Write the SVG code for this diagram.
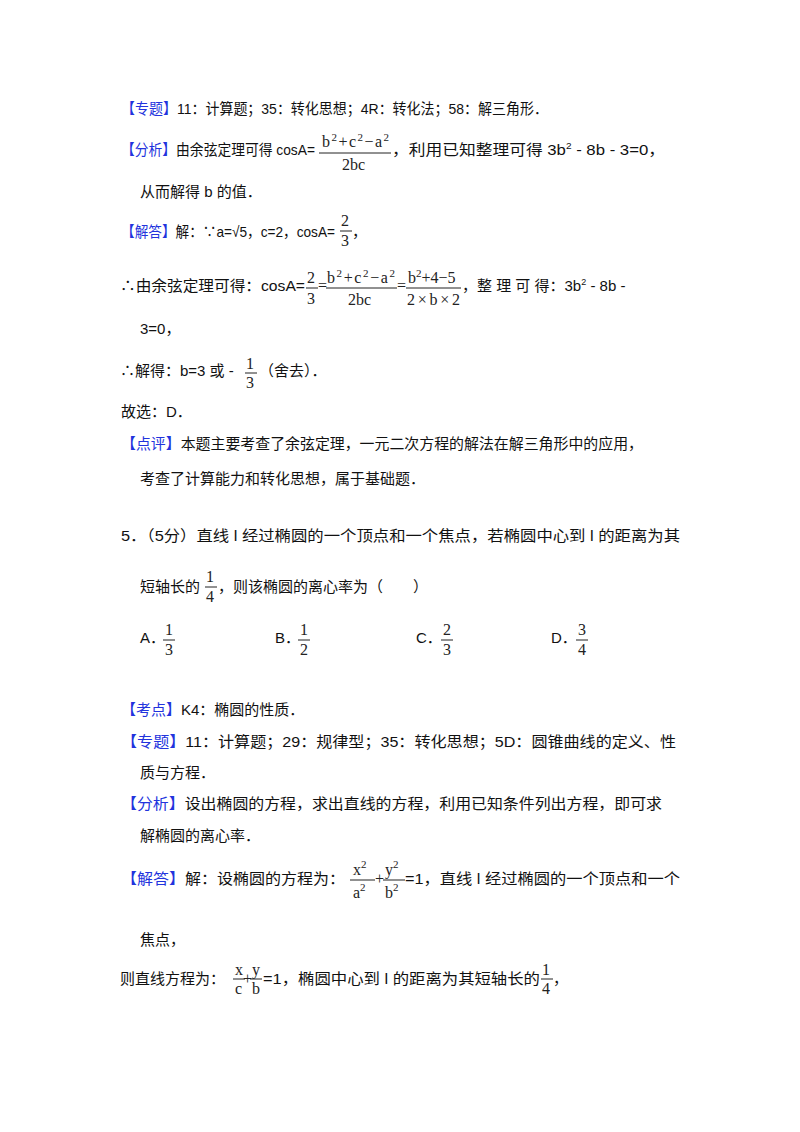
<svg xmlns="http://www.w3.org/2000/svg" width="800" height="1132" viewBox="0 0 800 1132">
<style>
text{font-family:"Liberation Sans","Noto Sans CJK SC",sans-serif;font-size:15px;fill:#111}
.b{fill:#2233dd}
.m{font-family:"Liberation Serif","Noto Sans CJK SC",serif;font-size:16px;fill:#222}
.s{font-family:"Liberation Serif",serif;font-size:11px;fill:#222}
line{stroke:#222;stroke-width:1}
</style>
<rect width="800" height="1132" fill="#fff"/>
<g id="zt1"><text x="121" y="114" textLength="427" lengthAdjust="spacingAndGlyphs"><tspan class="b">【专题】</tspan>11：计算题；35：转化思想；4R：转化法；58：解三角形．</text></g>
<g id="fx1">
<text x="121" y="155" textLength="194" lengthAdjust="spacingAndGlyphs"><tspan class="b">【分析】</tspan>由余弦定理可得 cosA=</text>
<text class="m" x="322" y="147" textLength="67" lengthAdjust="spacing">b<tspan class="s" dy="-6">2</tspan><tspan dy="6">+c</tspan><tspan class="s" dy="-6">2</tspan><tspan dy="6">−a</tspan><tspan class="s" dy="-6">2</tspan></text>
<line x1="319" y1="153" x2="391" y2="153"/>
<text class="m" x="342" y="170">2bc</text>
<text x="392" y="155" textLength="273" lengthAdjust="spacingAndGlyphs">，利用已知整理可得 3b<tspan font-size="9" dy="-6">2</tspan><tspan dy="6"> - 8b - 3=0，</tspan></text>
<text x="140" y="197">从而解得 b 的值．</text>
</g>
<g id="jd1">
<text x="121" y="237" textLength="214" lengthAdjust="spacingAndGlyphs"><tspan class="b">【解答】</tspan>解：∵a=√5，c=2，cosA=</text>
<text class="m" x="341" y="226">2</text><line x1="340" y1="231" x2="352" y2="231"/><text class="m" x="341" y="246">3</text>
<text x="352" y="237">，</text>
<text x="120" y="291" textLength="185" lengthAdjust="spacingAndGlyphs">∴由余弦定理可得：cosA=</text>
<text class="m" x="307" y="283">2</text><line x1="306" y1="288" x2="318" y2="288"/><text class="m" x="307" y="304">3</text>
<text class="m" x="318" y="291">=</text>
<text class="m" x="327" y="283" textLength="68" lengthAdjust="spacing">b<tspan class="s" dy="-6">2</tspan><tspan dy="6">+c</tspan><tspan class="s" dy="-6">2</tspan><tspan dy="6">−a</tspan><tspan class="s" dy="-6">2</tspan></text>
<line x1="326" y1="288" x2="397" y2="288"/>
<text class="m" x="348" y="305">2bc</text>
<text class="m" x="397" y="291">=</text>
<text class="m" x="408" y="283">b<tspan class="s" dy="-6">2</tspan><tspan dy="6">+4−5</tspan></text>
<line x1="406" y1="288" x2="461" y2="288"/>
<text class="m" x="407" y="305" textLength="53" lengthAdjust="spacing">2×b×2</text>
<text x="462" y="291">，整 理 可 得：3b<tspan font-size="9" dy="-6">2</tspan><tspan dy="6"> - 8b -</tspan></text>
<text x="140" y="334">3=0，</text>
<text x="120" y="376">∴解得：b=3 或 -</text>
<text class="m" x="246" y="369">1</text><line x1="245" y1="373" x2="257" y2="373"/><text class="m" x="246" y="388">3</text>
<text x="259" y="376">（舍去）．</text>
<text x="121" y="417">故选：D．</text>
</g>
<g id="dp1">
<text x="121" y="449" textLength="522" lengthAdjust="spacingAndGlyphs"><tspan class="b">【点评】</tspan>本题主要考查了余弦定理，一元二次方程的解法在解三角形中的应用，</text>
<text x="140" y="484">考查了计算能力和转化思想，属于基础题．</text>
</g>
<g id="q5">
<text x="121" y="541" textLength="559" lengthAdjust="spacingAndGlyphs">5．（5分）直线 l 经过椭圆的一个顶点和一个焦点，若椭圆中心到 l 的距离为其</text>
<text x="140" y="592">短轴长的</text>
<text class="m" x="206" y="582">1</text><line x1="205" y1="587" x2="217" y2="587"/><text class="m" x="206" y="602">4</text>
<text x="218" y="592">，则该椭圆的离心率为（　　）</text>
<text x="140" y="643">A．</text><text class="m" x="165" y="635">1</text><line x1="163" y1="640" x2="175" y2="640"/><text class="m" x="165" y="655">3</text>
<text x="275" y="643">B．</text><text class="m" x="300" y="635">1</text><line x1="298" y1="640" x2="310" y2="640"/><text class="m" x="300" y="655">2</text>
<text x="416" y="643">C．</text><text class="m" x="443" y="635">2</text><line x1="441" y1="640" x2="453" y2="640"/><text class="m" x="443" y="655">3</text>
<text x="551" y="643">D．</text><text class="m" x="578" y="635">3</text><line x1="576" y1="640" x2="588" y2="640"/><text class="m" x="578" y="655">4</text>
</g>
<g id="kd2"><text x="121" y="715"><tspan class="b">【考点】</tspan>K4：椭圆的性质．</text></g>
<g id="zt2">
<text x="121" y="747" textLength="555" lengthAdjust="spacingAndGlyphs"><tspan class="b">【专题】</tspan>11：计算题；29：规律型；35：转化思想；5D：圆锥曲线的定义、性</text>
<text x="140" y="778">质与方程．</text>
</g>
<g id="fx2">
<text x="121" y="809" textLength="541" lengthAdjust="spacingAndGlyphs"><tspan class="b">【分析】</tspan>设出椭圆的方程，求出直线的方程，利用已知条件列出方程，即可求</text>
<text x="140" y="841">解椭圆的离心率．</text>
</g>
<g id="jd2">
<text x="121" y="884" textLength="224" lengthAdjust="spacingAndGlyphs"><tspan class="b">【解答】</tspan>解：设椭圆的方程为：</text>
<text class="m" x="353" y="875">x<tspan class="s" dy="-7">2</tspan></text><line x1="350" y1="880" x2="375" y2="880"/><text class="m" x="353" y="898">a<tspan class="s" dy="-7">2</tspan></text>
<text class="m" x="375" y="884">+</text>
<text class="m" x="385" y="875">y<tspan class="s" dy="-7">2</tspan></text><line x1="383" y1="880" x2="405" y2="880"/><text class="m" x="385" y="898">b<tspan class="s" dy="-7">2</tspan></text>
<text x="405" y="884" textLength="275" lengthAdjust="spacingAndGlyphs">=1，直线 l 经过椭圆的一个顶点和一个</text>
<text x="140" y="945">焦点，</text>
<text x="120" y="984">则直线方程为：</text>
<text class="m" x="235" y="975">x</text><line x1="233" y1="979" x2="245" y2="979"/><text class="m" x="235" y="994">c</text>
<text class="m" x="243" y="984">+</text>
<text class="m" x="252" y="975">y</text><line x1="250" y1="979" x2="262" y2="979"/><text class="m" x="252" y="994">b</text>
<text x="263" y="984" textLength="277" lengthAdjust="spacingAndGlyphs">=1，椭圆中心到 l 的距离为其短轴长的</text>
<text class="m" x="542" y="975">1</text><line x1="541" y1="979" x2="553" y2="979"/><text class="m" x="542" y="994">4</text>
<text x="553" y="984">，</text>
</g>
</svg>
